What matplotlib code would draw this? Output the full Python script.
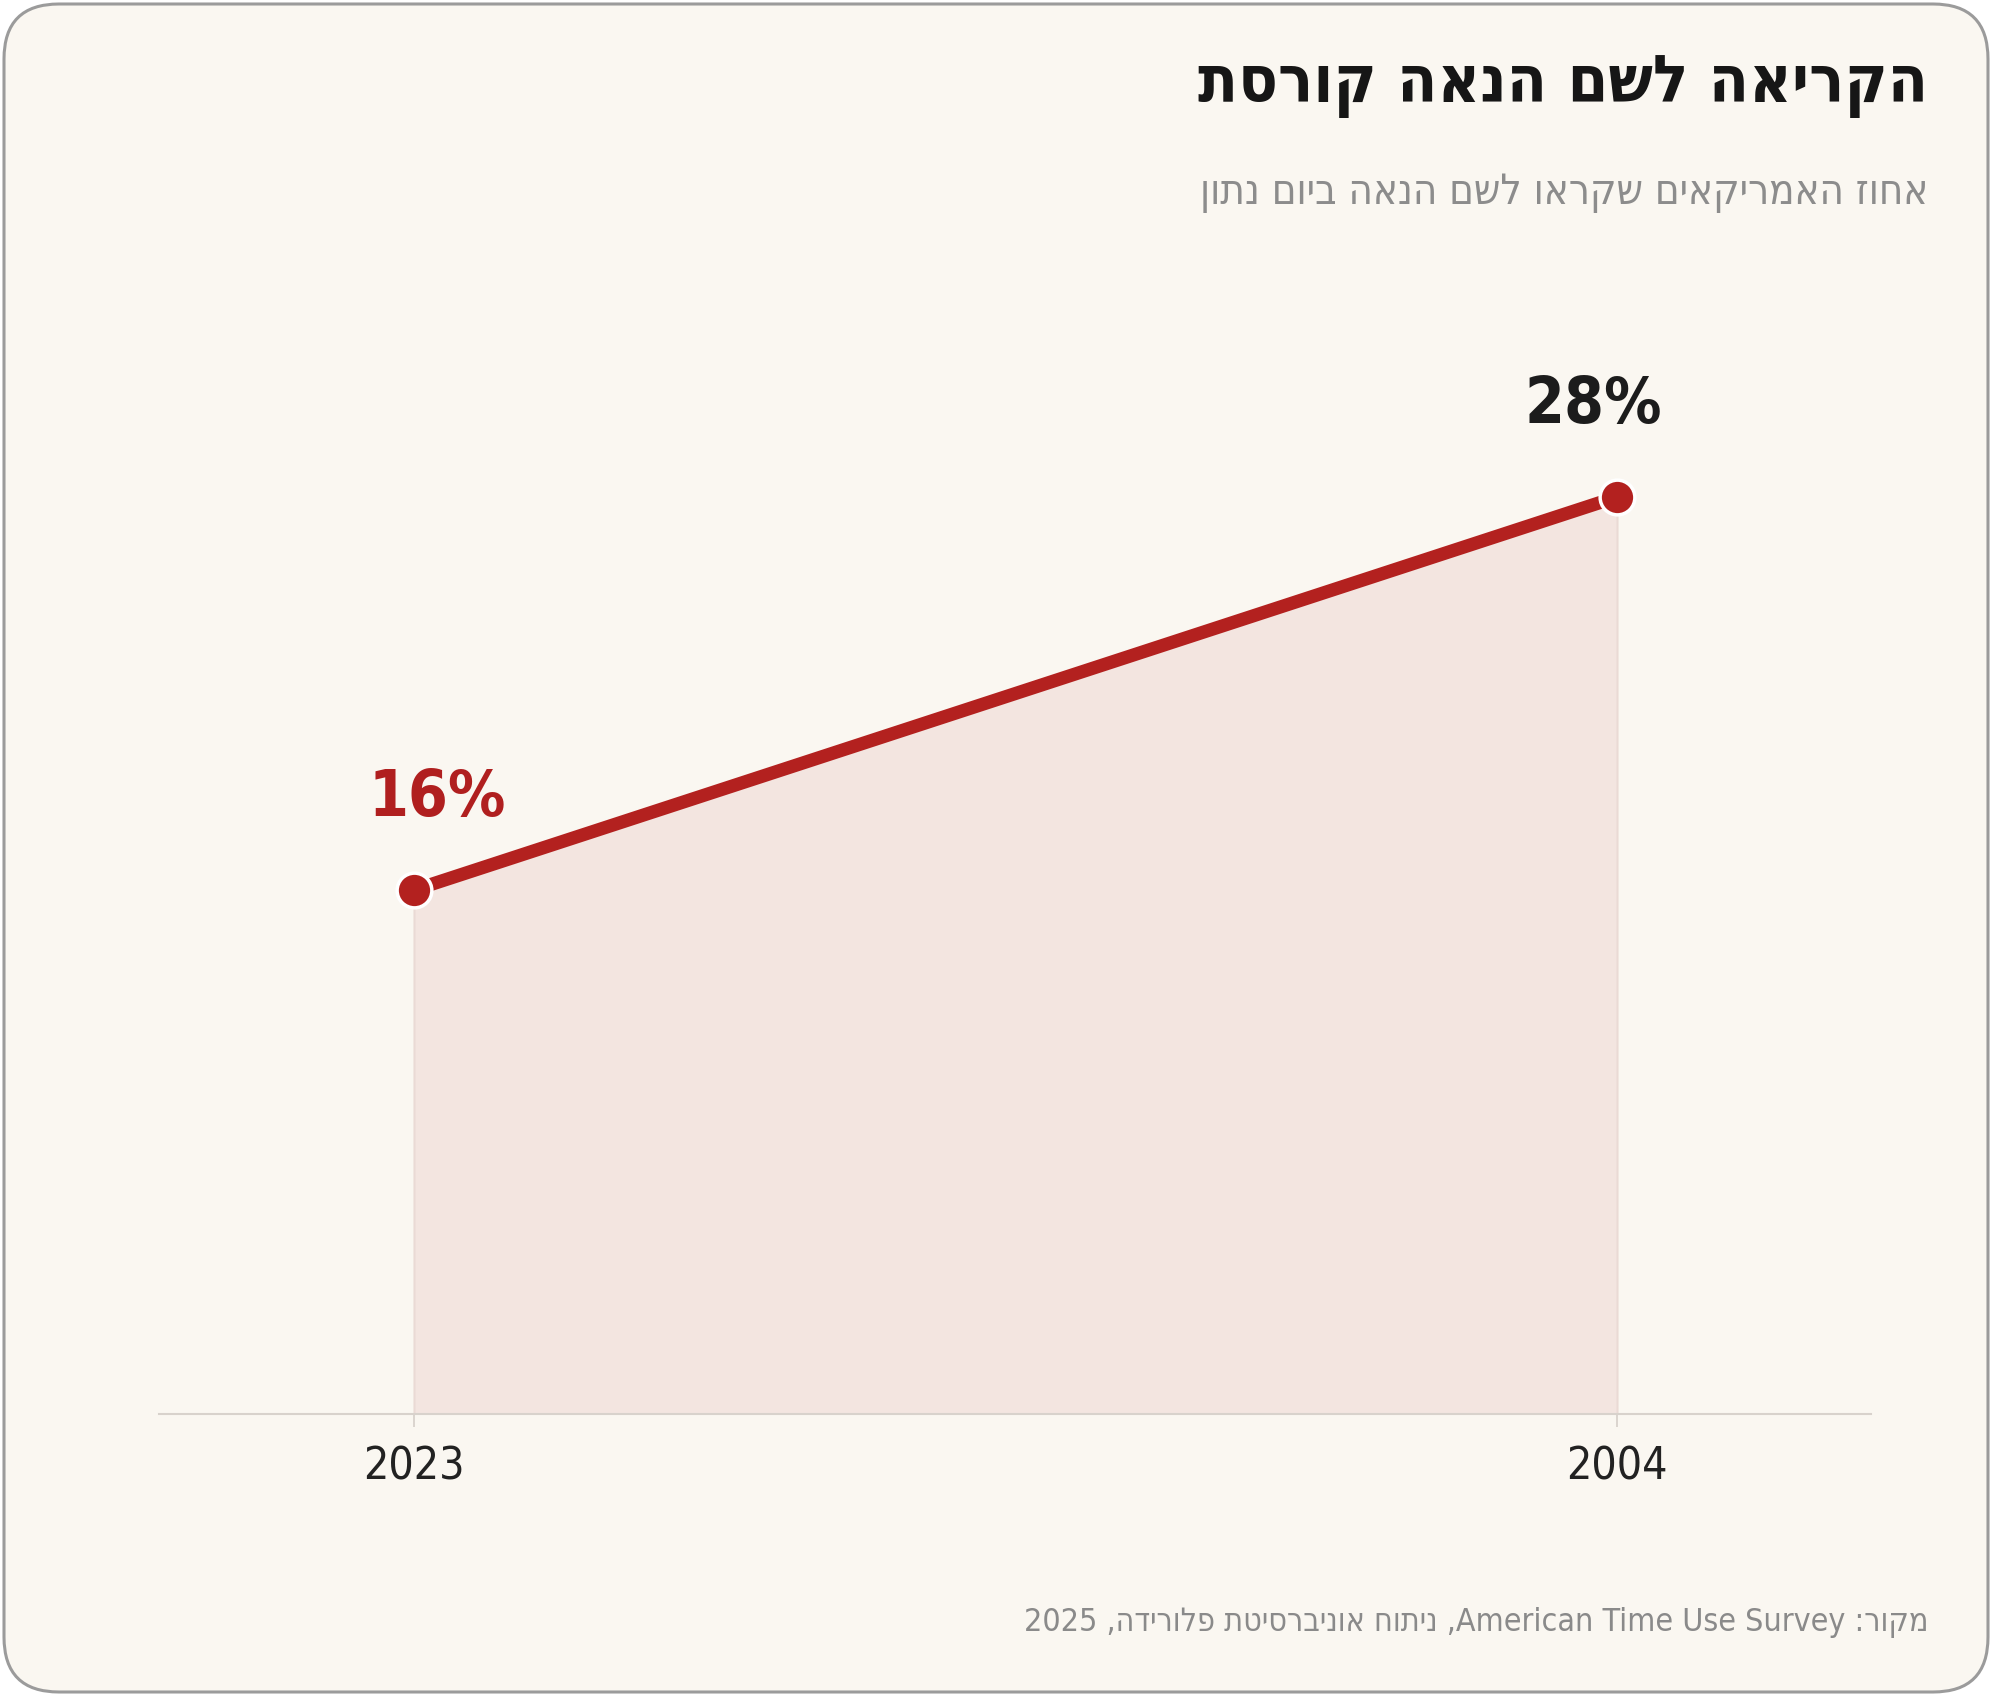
import matplotlib
matplotlib.use('Agg')
import matplotlib.pyplot as plt
from matplotlib.patches import FancyBboxPatch
from matplotlib.transforms import IdentityTransform

# data
years = ['2023', '2004']
share = [16, 28]
labels = ['16%', '28%']
label_colors = ['#b01f1f', '#1c1c1c']


def rtl(s):
    # matplotlib has no bidi support, so flip Hebrew runs by hand
    return s[::-1]


title = rtl('הקריאה לשם הנאה קורסת')
subtitle = rtl('אחוז האמריקאים שקראו לשם הנאה ביום נתון')
source = '2025' + rtl(', ניתוח אוניברסיטת פלורידה, ') + 'American Time Use Survey' + rtl('מקור: ')

W, H = 1992, 1696
fig = plt.figure(figsize=(W / 100, H / 100), dpi=100, facecolor='white')

card = FancyBboxPatch((4, 4), W - 8, H - 8,
                      boxstyle='round,pad=0,rounding_size=55',
                      transform=IdentityTransform(),
                      facecolor='#faf7f1', edgecolor='#9b9b9b', lw=2.2,
                      zorder=-10)
fig.patches.append(card)

fam = ['DejaVu Sans']
cond = 'condensed'
fig.text(1928 / W, 1 - 86 / H, title, ha='right', va='center',
         fontsize=47, fontweight='bold', family=fam, fontstretch=cond,
         color='#161616')
fig.text(1928 / W, 1 - 192 / H, subtitle, ha='right', va='center',
         fontsize=30, family=fam, fontstretch=cond, color='#8c8c8c')
fig.text(1928 / W, 1 - 1623 / H, source, ha='right', va='center',
         fontsize=23, family=fam, fontstretch=cond, color='#8a8a8a')

# axes: left 159px, right 1871px, baseline at 1414px, top at 250px
ax = fig.add_axes([159 / W, (H - 1414) / H, (1871 - 159) / W, (1414 - 250) / H])
ax.set_facecolor('none')

x = list(range(len(years)))
ax.fill_between(x, share, 0, color='#f3e5e0', edgecolor='#eadad5', lw=1.5, zorder=1)
ax.plot(x, share, color='#b3211f', lw=9.5, solid_capstyle='butt', zorder=3)
ax.plot(x, share, 'o', ms=25, color='#b3211f', mec='white', mew=2.5, zorder=4)

for xi, v, lab, c, dx in zip(x, share, labels, label_colors, [17, -17]):
    ax.annotate(lab, (xi, v), xytext=(dx, 66), textcoords='offset points',
                ha='center', va='center', fontsize=46, fontweight='bold',
                family=fam, fontstretch=cond, color=c)

ax.set_xlim(-(414 - 159) / 1203, 1 + (1871 - 1617) / 1203)
ax.set_ylim(0, (1414 - 250) / 32.75)

for s in ['top', 'right', 'left']:
    ax.spines[s].set_visible(False)
ax.spines['bottom'].set_color('#d8d2cc')
ax.spines['bottom'].set_linewidth(1.5)
ax.set_yticks([])
ax.set_xticks(x)
ax.set_xticklabels(years, fontsize=32, family=fam, fontstretch=cond, color='#222222')
ax.tick_params(axis='x', length=9, width=1.3, color='#d8d2cc', pad=14)

fig.savefig('out.png', dpi=100, facecolor='white')
